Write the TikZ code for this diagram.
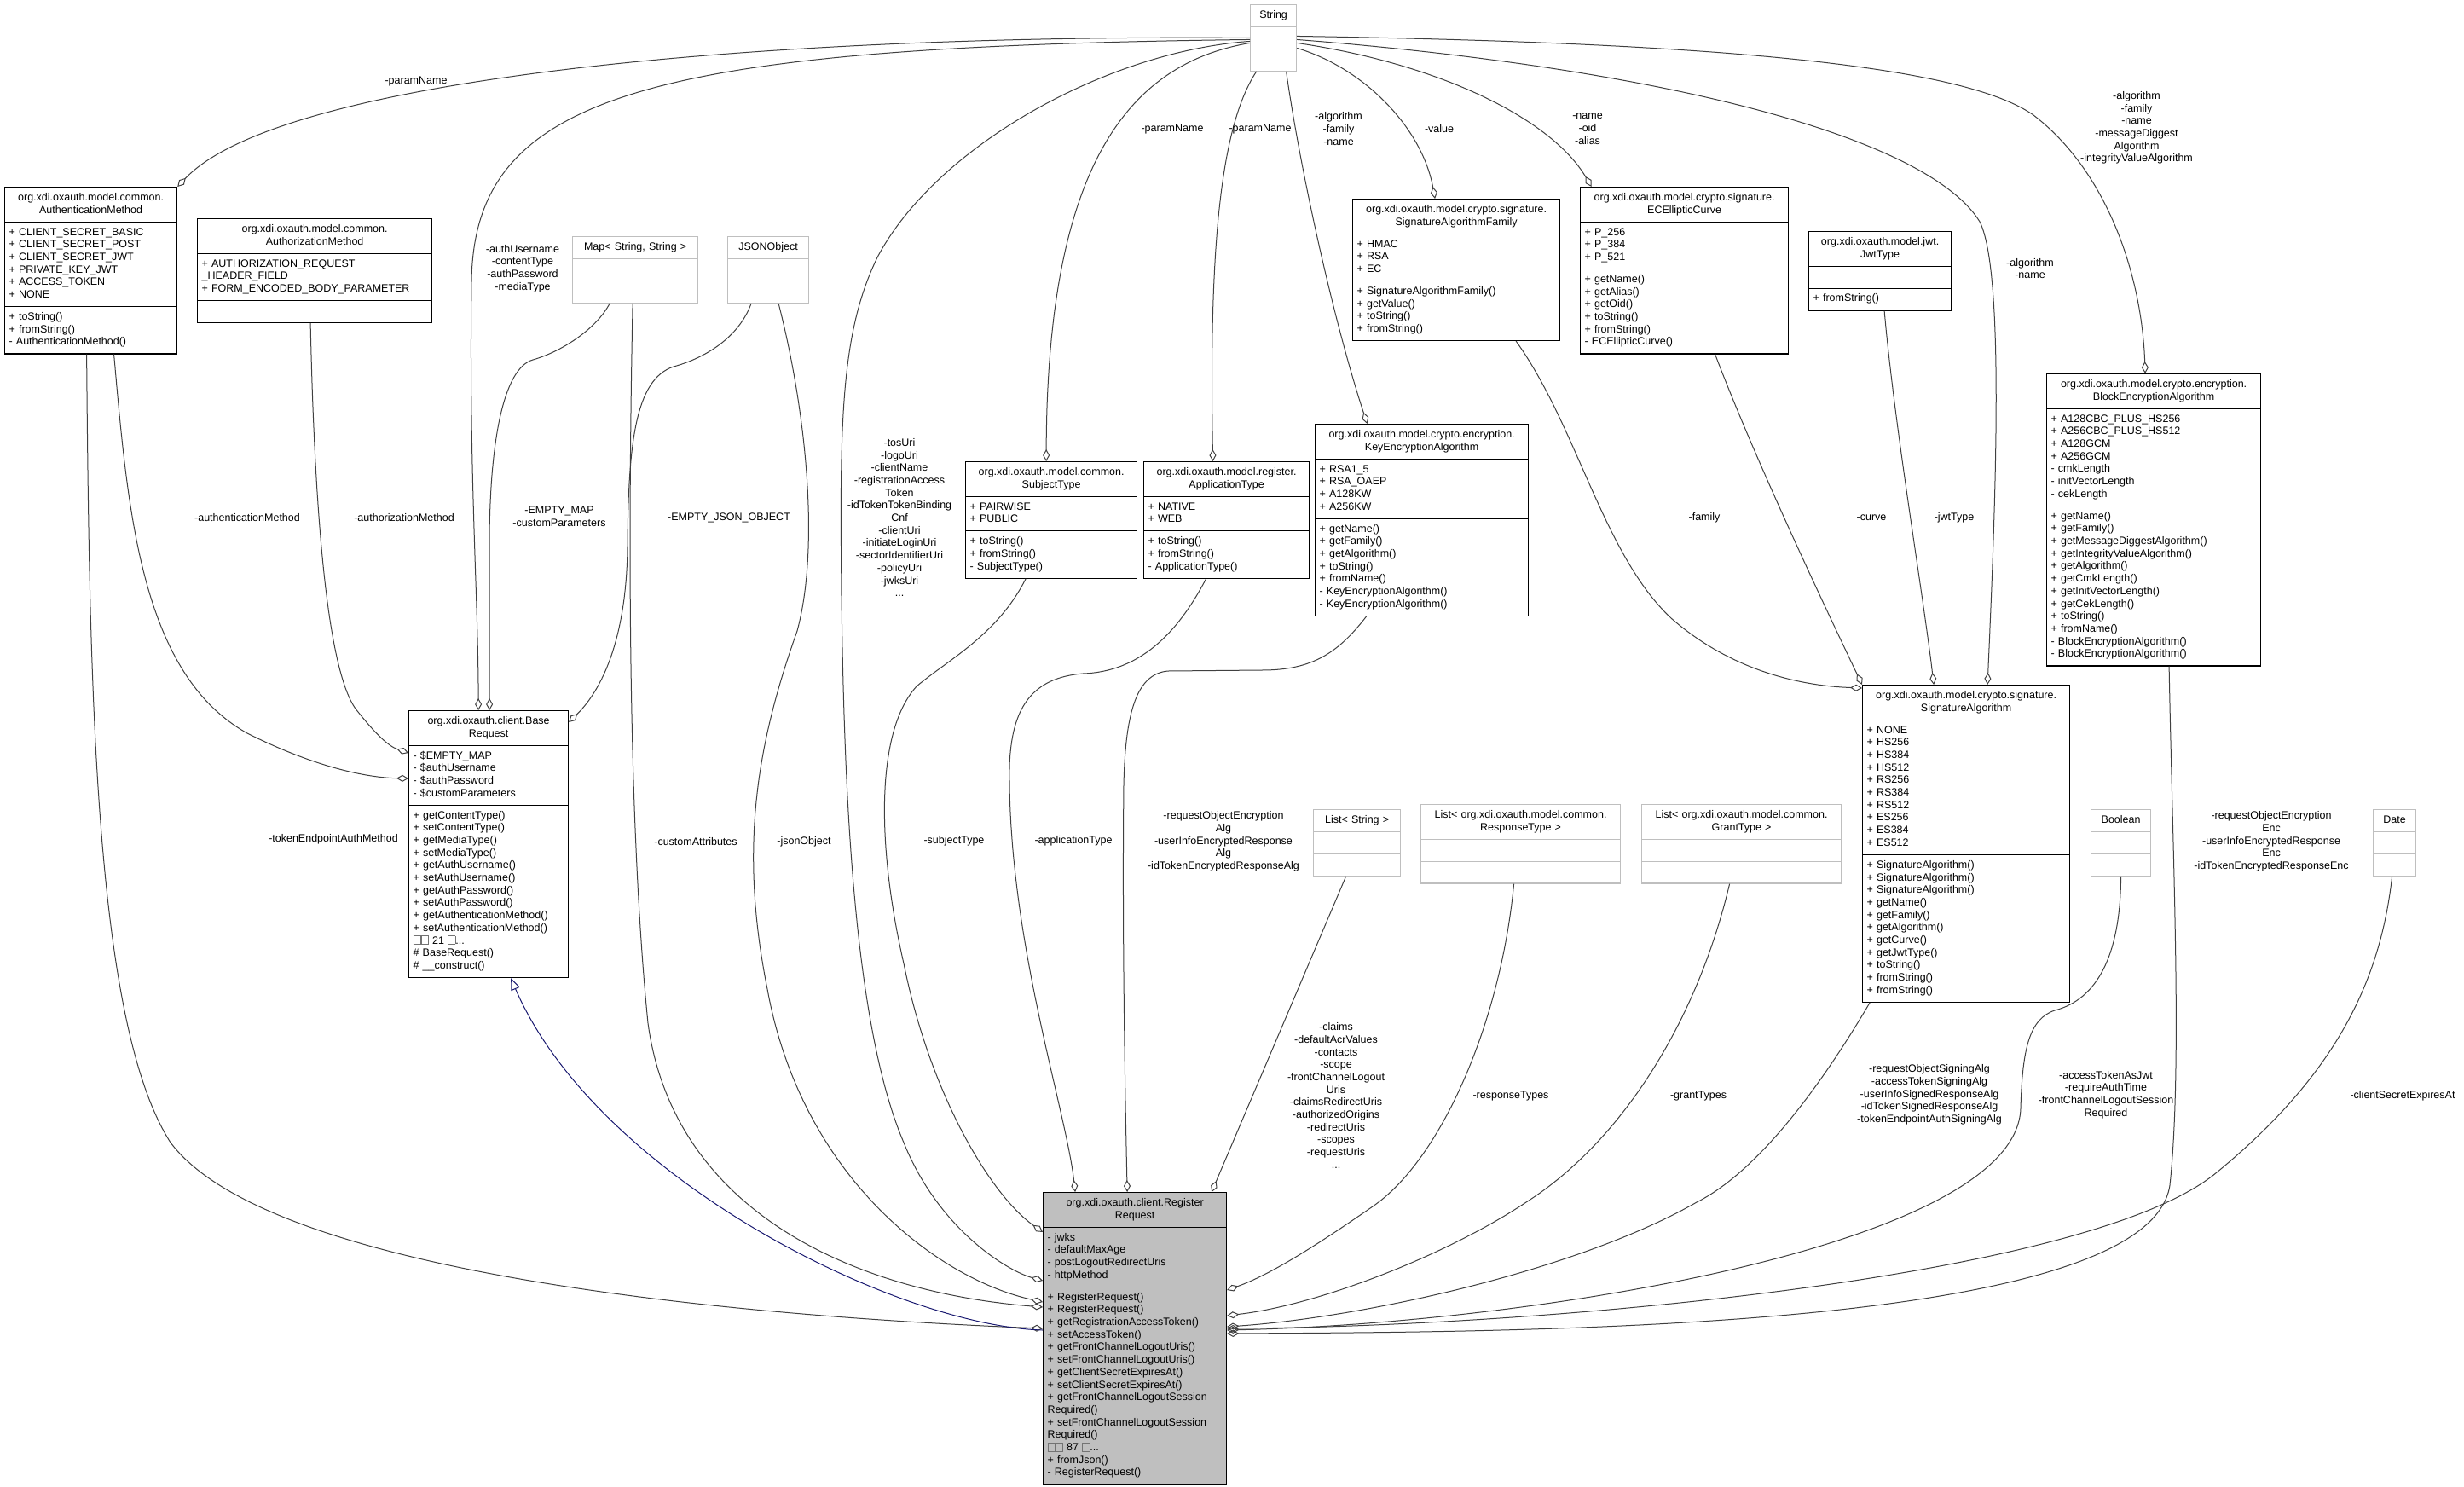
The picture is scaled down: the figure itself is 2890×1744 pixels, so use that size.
\documentclass[tikz,border=0pt]{standalone}
\usepackage{fontspec}
\setmainfont{Liberation Sans}
\usetikzlibrary{shapes.multipart,arrows.meta}
\definecolor{r25g25b112}{rgb}{0.098,0.098,0.439}
\newcommand{\tofu}{{\color{black!55}\setlength{\fboxsep}{0pt}\setlength{\fboxrule}{0.6pt}\fbox{\rule{0pt}{9pt}\hspace{8pt}}}}
\newcommand{\hdline}[1]{\makebox[\linewidth]{#1}\ignorespaces}
\begin{document}
\begin{tikzpicture}[x=1pt,y=-1pt,
  cls/.style={rectangle split, rectangle split parts=3, draw=black, line width=1.2pt, fill=white,
    anchor=north west, align=left, inner xsep=5pt, inner ysep=5pt,
    font=\fontsize{12.5}{14.7}\selectfont,
    execute at begin node=\strut, execute at end node=\strut},
  tpl/.style={cls, draw=black!25},
  main/.style={cls, fill=black!25},
  lbl/.style={align=center, inner sep=0pt, font=\fontsize{12.5}{14.7}\selectfont},
  agg/.style={draw=black!75, line width=1pt, -{Diamond[open,length=14pt,width=8pt]}},
  inh/.style={draw=r25g25b112, line width=1pt, -{Triangle[open,length=14pt,width=11pt]}}]
\fill[white] (0,0) rectangle (2890,1744);
\useasboundingbox (0,0) rectangle (2890,1744);

% Drawing classes
\node[tpl, text width=44pt] (str) at (1466,5) {\hdline{String}\nodepart{two}\nodepart{three}};
\node[cls, text width=192pt] (am) at (5,219) {\hdline{org.xdi.oxauth.model.common.}\\\hdline{AuthenticationMethod}
  \nodepart{two}+ CLIENT\_SECRET\_BASIC\\+ CLIENT\_SECRET\_POST\\+ CLIENT\_SECRET\_JWT\\+ PRIVATE\_KEY\_JWT\\+ ACCESS\_TOKEN\\+ NONE
  \nodepart{three}+ toString()\\+ fromString()\\- AuthenticationMethod()};
\node[cls, text width=265pt] (az) at (231,256) {\hdline{org.xdi.oxauth.model.common.}\\\hdline{AuthorizationMethod}
  \nodepart{two}+ AUTHORIZATION\_REQUEST\\\_HEADER\_FIELD\\+ FORM\_ENCODED\_BODY\_PARAMETER
  \nodepart{three}};
\node[tpl, text width=137pt] (map) at (671,277) {\hdline{Map< String, String >}\nodepart{two}\nodepart{three}};
\node[tpl, text width=85pt] (json) at (853,277) {\hdline{JSONObject}\nodepart{two}\nodepart{three}};
\node[cls, text width=191pt] (st) at (1132,541) {\hdline{org.xdi.oxauth.model.common.}\\\hdline{SubjectType}
  \nodepart{two}+ PAIRWISE\\+ PUBLIC
  \nodepart{three}+ toString()\\+ fromString()\\- SubjectType()};
\node[cls, text width=184pt] (apt) at (1341,541) {\hdline{org.xdi.oxauth.model.register.}\\\hdline{ApplicationType}
  \nodepart{two}+ NATIVE\\+ WEB
  \nodepart{three}+ toString()\\+ fromString()\\- ApplicationType()};
\node[cls, text width=240pt] (kea) at (1542,497) {\hdline{org.xdi.oxauth.model.crypto.encryption.}\\\hdline{KeyEncryptionAlgorithm}
  \nodepart{two}+ RSA1\_5\\+ RSA\_OAEP\\+ A128KW\\+ A256KW
  \nodepart{three}+ getName()\\+ getFamily()\\+ getAlgorithm()\\+ toString()\\+ fromName()\\- KeyEncryptionAlgorithm()\\- KeyEncryptionAlgorithm()};
\node[cls, text width=233pt] (saf) at (1586,233) {\hdline{org.xdi.oxauth.model.crypto.signature.}\\\hdline{SignatureAlgorithmFamily}
  \nodepart{two}+ HMAC\\+ RSA\\+ EC
  \nodepart{three}+ SignatureAlgorithmFamily()\\+ getValue()\\+ toString()\\+ fromString()};
\node[cls, text width=234pt] (ecc) at (1853,219) {\hdline{org.xdi.oxauth.model.crypto.signature.}\\\hdline{ECEllipticCurve}
  \nodepart{two}+ P\_256\\+ P\_384\\+ P\_521
  \nodepart{three}+ getName()\\+ getAlias()\\+ getOid()\\+ toString()\\+ fromString()\\- ECEllipticCurve()};
\node[cls, text width=157pt] (jwt) at (2121,271) {\hdline{org.xdi.oxauth.model.jwt.}\\\hdline{JwtType}
  \nodepart{two}
  \nodepart{three}+ fromString()};
\node[cls, text width=241pt] (bea) at (2400,438) {\hdline{org.xdi.oxauth.model.crypto.encryption.}\\\hdline{BlockEncryptionAlgorithm}
  \nodepart{two}+ A128CBC\_PLUS\_HS256\\+ A256CBC\_PLUS\_HS512\\+ A128GCM\\+ A256GCM\\- cmkLength\\- initVectorLength\\- cekLength
  \nodepart{three}+ getName()\\+ getFamily()\\+ getMessageDiggestAlgorithm()\\+ getIntegrityValueAlgorithm()\\+ getAlgorithm()\\+ getCmkLength()\\+ getInitVectorLength()\\+ getCekLength()\\+ toString()\\+ fromName()\\- BlockEncryptionAlgorithm()\\- BlockEncryptionAlgorithm()};
\node[cls, text width=233pt] (sa) at (2184,803) {\hdline{org.xdi.oxauth.model.crypto.signature.}\\\hdline{SignatureAlgorithm}
  \nodepart{two}+ NONE\\+ HS256\\+ HS384\\+ HS512\\+ RS256\\+ RS384\\+ RS512\\+ ES256\\+ ES384\\+ ES512
  \nodepart{three}+ SignatureAlgorithm()\\+ SignatureAlgorithm()\\+ SignatureAlgorithm()\\+ getName()\\+ getFamily()\\+ getAlgorithm()\\+ getCurve()\\+ getJwtType()\\+ toString()\\+ fromString()\\+ fromString()};
\node[cls, text width=177pt] (br) at (479,833) {\hdline{org.xdi.oxauth.client.Base}\\\hdline{Request}
  \nodepart{two}- \$EMPTY\_MAP\\- \$authUsername\\- \$authPassword\\- \$customParameters
  \nodepart{three}+ getContentType()\\+ setContentType()\\+ getMediaType()\\+ setMediaType()\\+ getAuthUsername()\\+ setAuthUsername()\\+ getAuthPassword()\\+ setAuthPassword()\\+ getAuthenticationMethod()\\+ setAuthenticationMethod()\\\tofu\tofu{} 21 \tofu...\\\# BaseRequest()\\\# \_\_construct()};
\node[tpl, text width=92pt] (ls) at (1540,949) {\hdline{List< String >}\nodepart{two}\nodepart{three}};
\node[tpl, text width=224pt] (lrt) at (1666,943) {\hdline{List< org.xdi.oxauth.model.common.}\\\hdline{ResponseType >}\nodepart{two}\nodepart{three}};
\node[tpl, text width=224pt] (lgt) at (1925,943) {\hdline{List< org.xdi.oxauth.model.common.}\\\hdline{GrantType >}\nodepart{two}\nodepart{three}};
\node[tpl, text width=60pt] (bool) at (2452,949) {\hdline{Boolean}\nodepart{two}\nodepart{three}};
\node[tpl, text width=40pt] (date) at (2783,949) {\hdline{Date}\nodepart{two}\nodepart{three}};
\node[main, text width=205pt] (rr) at (1223,1398) {\hdline{org.xdi.oxauth.client.Register}\\\hdline{Request}
  \nodepart{two}- jwks\\- defaultMaxAge\\- postLogoutRedirectUris\\- httpMethod
  \nodepart{three}+ RegisterRequest()\\+ RegisterRequest()\\+ getRegistrationAccessToken()\\+ setAccessToken()\\+ getFrontChannelLogoutUris()\\+ setFrontChannelLogoutUris()\\+ getClientSecretExpiresAt()\\+ setClientSecretExpiresAt()\\+ getFrontChannelLogoutSession\\Required()\\+ setFrontChannelLogoutSession\\Required()\\\tofu\tofu{} 87 \tofu...\\+ fromJson()\\- RegisterRequest()};

% Drawing edges from String
\draw[agg] (str.west) .. controls (900,40) and (330,90) .. (am.north east);
\draw[agg] ([yshift=-2pt]str.west) .. controls (760,55) and (556,110) .. (553,330) .. controls (550,560) and (561,700) .. ([xshift=-12pt]br.north);
\draw[agg] ([yshift=-4pt]str.west) .. controls (1300,60) and (1100,170) .. (1030,300) .. controls (985,390) and (985,500) .. (987,700) .. controls (990,920) and (1000,1200) .. (1060,1340) .. controls (1100,1440) and (1180,1490) .. ([yshift=-104pt]rr.north west);
\draw[agg] ([yshift=-6pt]str.west) .. controls (1320,75) and (1228,200) .. ([xshift=-6pt]st.north);
\draw[agg] ([xshift=-20pt]str.south) .. controls (1430,150) and (1418,300) .. ([xshift=-16pt]apt.north);
\draw[agg] ([xshift=15pt]str.south) .. controls (1525,200) and (1565,380) .. ([xshift=-64pt]kea.north);
\draw[agg] ([yshift=-12pt]str.east) .. controls (1600,80) and (1668,150) .. ([xshift=-25pt]saf.north);
\draw[agg] ([yshift=-6pt]str.east) .. controls (1690,75) and (1820,140) .. ([xshift=-109pt]ecc.north);
\draw[agg] ([yshift=-2pt]str.east) .. controls (1950,80) and (2260,160) .. (2322,260) .. controls (2352,320) and (2340,600) .. ([xshift=25pt]sa.north);
\draw[agg] ([yshift=2pt]str.east) .. controls (2000,50) and (2300,75) .. (2385,135) .. controls (2470,200) and (2512,320) .. ([xshift=-10pt]bea.north);

% Drawing edges to BaseRequest
\draw[agg] ([xshift=-30pt]map.south) .. controls (700,385) and (660,412) .. (625,422) .. controls (590,432) and (574,520) .. (574,640) -- ([xshift=1pt]br.north);
\draw[agg] ([xshift=-20pt]json.south) .. controls (865,400) and (820,422) .. (790,430) .. controls (745,445) and (737,520) .. (736,640) .. controls (735,760) and (700,815) .. ([yshift=-14pt]br.north east);
\draw[agg] ([xshift=27pt]am.south) .. controls (150,600) and (165,790) .. (290,860) .. controls (370,900) and (430,912) .. ([yshift=-80pt]br.north west);
\draw[agg] ([xshift=-5pt]az.south) .. controls (368,560) and (380,790) .. (420,835) .. controls (440,860) and (455,875) .. ([yshift=-50pt]br.north west);

% Drawing edges to SignatureAlgorithm
\draw[agg] ([xshift=70pt]saf.south) .. controls (1850,500) and (1880,650) .. (1960,725) .. controls (2040,795) and (2130,805) .. ([yshift=-4pt]sa.north west);
\draw[agg] ([xshift=36pt]ecc.south) .. controls (2055,530) and (2130,690) .. (sa.north west);
\draw[agg] ([xshift=5pt]jwt.south) .. controls (2222,500) and (2256,700) .. ([xshift=-38pt]sa.north);

% Drawing edges to RegisterRequest
\draw[agg] ([xshift=-5pt]am.south) .. controls (105,800) and (110,1200) .. (200,1340) .. controls (320,1500) and (900,1545) .. ([yshift=-160pt]rr.north west);
\draw[agg] ([xshift=-3pt]map.south) .. controls (735,700) and (740,1000) .. (760,1200) .. controls (790,1420) and (1000,1515) .. ([yshift=-135pt]rr.north west);
\draw[agg] ([xshift=12pt]json.south) .. controls (945,480) and (962,640) .. (935,740) .. controls (885,880) and (868,1000) .. (900,1160) .. controls (940,1380) and (1100,1500) .. ([yshift=-129pt]rr.north west);
\draw[agg] ([xshift=-30pt]st.south) .. controls (1170,745) and (1110,775) .. (1075,805) .. controls (1025,860) and (1030,1000) .. (1060,1130) .. controls (1090,1280) and (1160,1400) .. ([yshift=-47pt]rr.north west);
\draw[agg] ([xshift=-24pt]apt.south) .. controls (1380,745) and (1335,788) .. (1270,790) .. controls (1210,795) and (1186,830) .. (1184,900) .. controls (1182,1100) and (1250,1300) .. ([xshift=-70pt]rr.north);
\draw[agg] ([xshift=-65pt]kea.south) .. controls (1570,765) and (1540,786) .. (1480,786) -- (1370,787) .. controls (1335,790) and (1320,830) .. (1318,920) .. controls (1316,1100) and (1320,1300) .. ([xshift=-9pt]rr.north);
\draw[agg] ([xshift=-13pt]ls.south) -- ([xshift=90pt]rr.north);
\draw[agg] ([xshift=-8pt]lrt.south) .. controls (1760,1200) and (1690,1360) .. (1610,1415) .. controls (1545,1460) and (1490,1495) .. ([yshift=-115pt]rr.north east);
\draw[agg] ([xshift=-14pt]lgt.south) .. controls (1990,1200) and (1900,1340) .. (1790,1410) .. controls (1700,1470) and (1550,1530) .. ([yshift=-145pt]rr.north east);
\draw[agg] ([xshift=-113pt]sa.south) .. controls (2120,1300) and (2050,1380) .. (1990,1410) .. controls (1850,1490) and (1600,1545) .. ([yshift=-158pt]rr.north east);
\draw[agg] (bool.south) .. controls (2487,1120) and (2460,1172) .. (2410,1185) .. controls (2380,1195) and (2372,1230) .. (2370,1300) .. controls (2365,1460) and (1800,1552) .. ([yshift=-162pt]rr.north east);
\draw[agg] ([xshift=18pt]bea.south) .. controls (2548,1000) and (2560,1250) .. (2545,1390) .. controls (2520,1560) and (1800,1562) .. ([yshift=-166pt]rr.north east);
\draw[agg] ([xshift=-3pt]date.south) .. controls (2792,1150) and (2740,1260) .. (2600,1375) .. controls (2450,1500) and (1800,1556) .. ([yshift=-160pt]rr.north east);

% Drawing inheritance
\draw[inh] ([yshift=-162pt]rr.north west) .. controls (1050,1555) and (700,1380) .. ([xshift=26pt]br.south);

% Drawing edge labels
\node[lbl] (l-am-str) at (488,96) {-paramName};
\node[lbl] (l-br-str) at (613,315) {-authUsername\\-contentType\\-authPassword\\-mediaType};
\node[lbl] (l-br-am) at (290,607) {-authenticationMethod};
\node[lbl] (l-br-az) at (474,607) {-authorizationMethod};
\node[lbl] (l-br-map) at (656,606) {-EMPTY\_MAP\\-customParameters};
\node[lbl] (l-br-json) at (855,607) {-EMPTY\_JSON\_OBJECT};
\node[lbl] (l-rr-str) at (1055,607) {-tosUri\\-logoUri\\-clientName\\-registrationAccess\\Token\\-idTokenTokenBinding\\Cnf\\-clientUri\\-initiateLoginUri\\-sectorIdentifierUri\\-policyUri\\-jwksUri\\...};
\node[lbl] (l-st-str) at (1375,151) {-paramName};
\node[lbl] (l-apt-str) at (1478,151) {-paramName};
\node[lbl] (l-kea-str) at (1570,151) {-algorithm\\-family\\-name};
\node[lbl] (l-saf-str) at (1688,151) {-value};
\node[lbl] (l-ecc-str) at (1862,151) {-name\\-oid\\-alias};
\node[lbl] (l-sa-str) at (2381,315) {-algorithm\\-name};
\node[lbl] (l-bea-str) at (2506,150) {-algorithm\\-family\\-name\\-messageDiggest\\Algorithm\\-integrityValueAlgorithm};
\node[lbl] (l-sa-saf) at (1999,607) {-family};
\node[lbl] (l-sa-ecc) at (2195,607) {-curve};
\node[lbl] (l-sa-jwt) at (2292,607) {-jwtType};
\node[lbl] (l-rr-am) at (391,984) {-tokenEndpointAuthMethod};
\node[lbl] (l-rr-map) at (816,987) {-customAttributes};
\node[lbl] (l-rr-json) at (943,987) {-jsonObject};
\node[lbl] (l-rr-st) at (1119,986) {-subjectType};
\node[lbl] (l-rr-apt) at (1259,986) {-applicationType};
\node[lbl] (l-rr-kea) at (1435,987) {-requestObjectEncryption\\Alg\\-userInfoEncryptedResponse\\Alg\\-idTokenEncryptedResponseAlg};
\node[lbl] (l-rr-ls) at (1567,1285) {-claims\\-defaultAcrValues\\-contacts\\-scope\\-frontChannelLogout\\Uris\\-claimsRedirectUris\\-authorizedOrigins\\-redirectUris\\-scopes\\-requestUris\\...};
\node[lbl] (l-rr-lrt) at (1772,1285) {-responseTypes};
\node[lbl] (l-rr-lgt) at (1992,1285) {-grantTypes};
\node[lbl] (l-rr-sa) at (2263,1284) {-requestObjectSigningAlg\\-accessTokenSigningAlg\\-userInfoSignedResponseAlg\\-idTokenSignedResponseAlg\\-tokenEndpointAuthSigningAlg};
\node[lbl] (l-rr-bool) at (2470,1284) {-accessTokenAsJwt\\-requireAuthTime\\-frontChannelLogoutSession\\Required};
\node[lbl] (l-rr-bea) at (2664,987) {-requestObjectEncryption\\Enc\\-userInfoEncryptedResponse\\Enc\\-idTokenEncryptedResponseEnc};
\node[lbl] (l-rr-date) at (2818,1285) {-clientSecretExpiresAt};
\end{tikzpicture}
\end{document}
